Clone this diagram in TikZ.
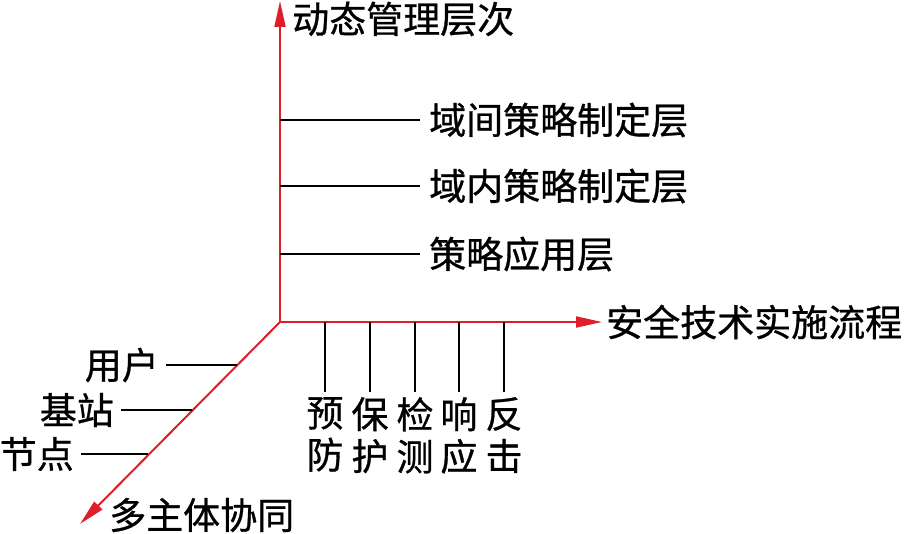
\documentclass[tikz,border=0pt]{standalone}
\usepackage{fontspec}
\setmainfont{Noto Sans CJK SC}[FakeBold=0.8]
\usetikzlibrary{arrows.meta}
\definecolor{axisred}{RGB}{222,30,40}
\begin{document}
\begin{tikzpicture}[x=1pt,y=-1pt,
  axisline/.style={draw=axisred,line width=2pt,-{Triangle[length=26pt,width=11pt]}},
  branch/.style={draw=black,line width=1.6pt},
  lbl/.style={font=\fontsize{37}{42}\selectfont,inner sep=0pt},
  ticklbl/.style={font=\fontsize{37}{42}\selectfont,inner sep=0pt,align=center,anchor=north},
]
\useasboundingbox (0,0) rectangle (904,534);
% axes
\coordinate (O) at (280,322);
\coordinate (Ytip) at (280,1);
\coordinate (Xtip) at (602,322);
\coordinate (Ztip) at (80,524);
\draw[axisline] (O) -- (Ytip);
\draw[axisline] (O) -- (Xtip);
\draw[axisline] (O) -- (Ztip);
% axis titles
\node[lbl,anchor=west] (ytitle) at (292,19) {动态管理层次};
\node[lbl,anchor=west] (xtitle) at (606,322) {安全技术实施流程};
\node[lbl,anchor=west] (ztitle) at (109,515) {多主体协同};
% vertical axis branches
\coordinate (y1) at (280,120);
\coordinate (y2) at (280,186);
\coordinate (y3) at (280,254);
\node[lbl,anchor=west] (l1) at (429,120) {域间策略制定层};
\node[lbl,anchor=west] (l2) at (429,186) {域内策略制定层};
\node[lbl,anchor=west] (l3) at (429,254) {策略应用层};
\draw[branch] (y1) -- ([xshift=-9pt]l1.west);
\draw[branch] (y2) -- ([xshift=-9pt]l2.west);
\draw[branch] (y3) -- ([xshift=-9pt]l3.west);
% horizontal axis ticks
\foreach \x/\t [count=\i] in {325/{预\\防},370/{保\\护},415/{检\\测},459/{响\\应},504/{反\\击}}{
  \coordinate (x\i) at (\x,322);
  \node[ticklbl] (t\i) at (\x,397) {\t};
  \draw[branch] (x\i) -- ([yshift=5pt]t\i.north);
}
% diagonal axis branches
\coordinate (z1) at (237,365);
\coordinate (z2) at (192,410);
\coordinate (z3) at (148,454);
\node[lbl,anchor=east] (m1) at (159,365) {用户};
\node[lbl,anchor=east] (m2) at (114,410) {基站};
\node[lbl,anchor=east] (m3) at (74,454) {节点};
\draw[branch] (z1) -- ([xshift=7pt]m1.east);
\draw[branch] (z2) -- ([xshift=7pt]m2.east);
\draw[branch] (z3) -- ([xshift=7pt]m3.east);
\end{tikzpicture}
\end{document}
